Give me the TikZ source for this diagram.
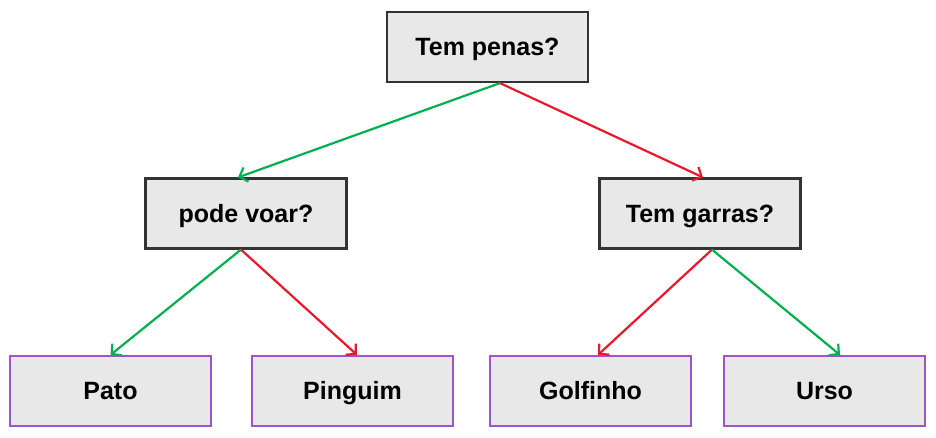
\documentclass[tikz,border=0pt]{standalone}
\usepackage{fontspec}
\setmainfont{Liberation Sans}
\usetikzlibrary{arrows.meta}
\definecolor{boxfill}{HTML}{E8E8E8}
\definecolor{boxline}{HTML}{333333}
\definecolor{leafline}{HTML}{9E55C8}
\definecolor{yesc}{HTML}{00B050}
\definecolor{noc}{HTML}{E8192C}
\tikzset{
  qbox/.style={draw=boxline, line width=2.2pt, fill=boxfill, minimum width=201pt, minimum height=70pt, inner sep=0pt, text height=17.9pt, text depth=0pt, font=\fontsize{25}{29}\selectfont\bfseries},
  leaf/.style={qbox, draw=leafline},
  yesarrow/.style={draw=yesc, line width=2.2pt, -{Straight Barb[length=7pt,width=15pt,line width=2.2pt]}},
  noarrow/.style={draw=noc, line width=2.2pt, -{Straight Barb[length=7pt,width=15pt,line width=2.2pt]}},
}
\begin{document}
\begin{tikzpicture}[x=1pt,y=-1pt]
\useasboundingbox (0,0) rectangle (936,438);
\node[qbox] (root) at (487.5,47) {Tem penas?};
\node[qbox] (voar) at (246,213.5) {pode voar?};
\node[qbox] (garras) at (700,213.5) {Tem garras?};
\node[leaf] (pato) at (110.5,391) {Pato};
\node[leaf] (pinguim) at (352.5,391) {Pinguim};
\node[leaf] (golfinho) at (590.5,391) {Golfinho};
\node[leaf] (urso) at (824.5,391) {Urso};
\draw[yesarrow] ([xshift=12.5pt]root.south) -- ([xshift=-8pt]voar.north);
\draw[noarrow] ([xshift=12.5pt]root.south) -- ([xshift=3pt]garras.north);
\draw[yesarrow] ([xshift=-5pt]voar.south) -- ([xshift=0pt]pato.north);
\draw[noarrow] ([xshift=-5pt]voar.south) -- ([xshift=4.5pt]pinguim.north);
\draw[noarrow] ([xshift=12pt]garras.south) -- ([xshift=7.5pt]golfinho.north);
\draw[yesarrow] ([xshift=12pt]garras.south) -- ([xshift=15.5pt]urso.north);
\end{tikzpicture}
\end{document}
